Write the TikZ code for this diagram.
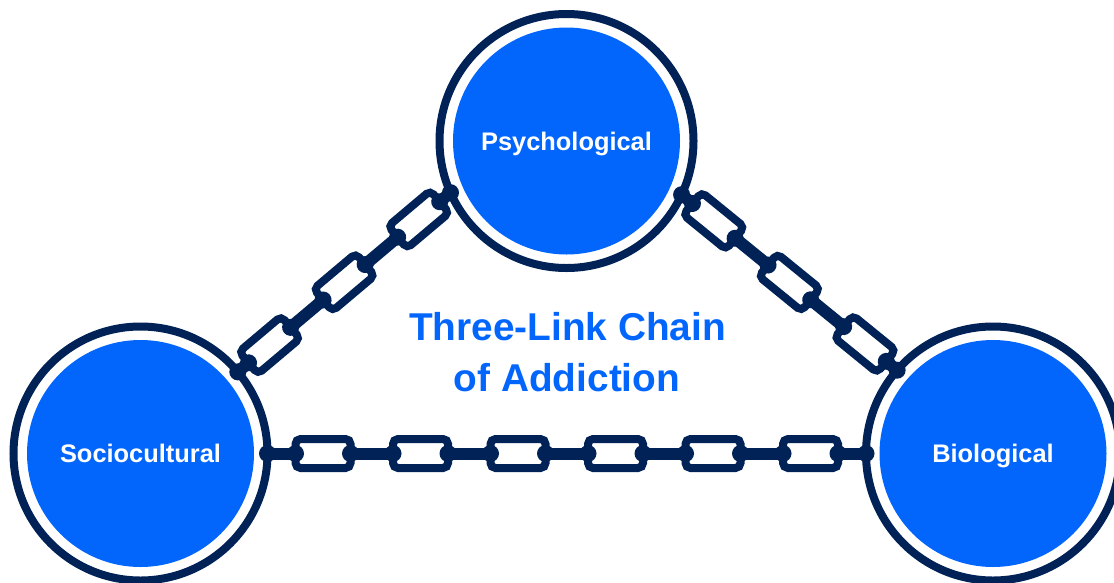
\documentclass[tikz,border=0pt]{standalone}
\usepackage{fontspec}
\setmainfont{Liberation Sans}
\usetikzlibrary{decorations.markings}
\definecolor{navy}{HTML}{012256}
\definecolor{vivid}{HTML}{0366FC}
\tikzset{
  ringnode/.style={circle, draw=navy, line width=8pt, minimum size=254pt,
    inner sep=0pt, outer sep=0pt, fill=white, text=white,
    font=\fontsize{25.4}{30}\selectfont\bfseries, text height=18pt, text depth=0pt,
    path picture={\fill[vivid] (path picture bounding box.center) circle (113.5pt);}},
  chainbar/.style={draw=navy, line width=12pt},
  linkbox/.style={draw=navy, fill=white, line width=8pt, rounded corners=5pt},
  knob/.style={fill=navy},
  titletext/.style={text=vivid, font=\fontsize{38.8}{46}\selectfont\bfseries, inner sep=0pt}
}
\newcommand\linkchain[3]{%
  \draw[chainbar] (#1) -- (#2);
  \fill[knob] (#1) circle (8.5pt) (#2) circle (8.5pt);
  \path[decorate, decoration={markings, mark=at position 0.5 with {
      \foreach \o in {#3} {
        \draw[linkbox] (\o pt-27.5pt,-14.5pt) rectangle (\o pt+27.5pt,14.5pt);
        \fill[knob] (\o pt-27.5pt,0pt) circle (8.5pt) (\o pt+27.5pt,0pt) circle (8.5pt);
      }}}] (#1) -- (#2);
}
\begin{document}
\begin{tikzpicture}[x=1pt,y=-1pt]
  \useasboundingbox (0,0) rectangle (1114,582);
  \clip (0,0) rectangle (1114,582);
  \node[ringnode] (psy) at (566.5,141) {Psychological};
  \node[ringnode] (soc) at (140.5,453.5) {Sociocultural};
  \node[ringnode] (bio) at (993,453.5) {Biological};
  \linkchain{soc.0}{bio.180}{-243.75,-146.25,-48.75,48.75,146.25,243.75}
  \linkchain{soc.40.7}{psy.204.4}{-97.5,0,97.5}
  \linkchain{psy.335.6}{bio.139.3}{-97.5,0,97.5}
  \node[titletext, anchor=base] (t1) at (567.5,340) {Three-Link Chain};
  \node[titletext, anchor=base] (t2) at (567,391) {of Addiction};
\end{tikzpicture}
\end{document}
